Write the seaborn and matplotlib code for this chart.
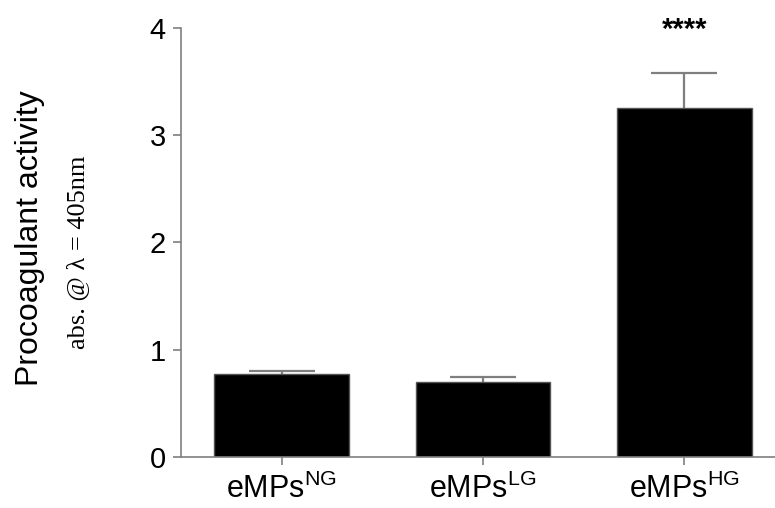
import matplotlib
matplotlib.use("Agg")
import matplotlib.pyplot as plt
import seaborn as sns
import pandas as pd

# Data
groups = ["NG", "LG", "HG"]
tick_labels = [r"eMPs$^{\mathregular{NG}}$", r"eMPs$^{\mathregular{LG}}$", r"eMPs$^{\mathregular{HG}}$"]
means = [0.77, 0.70, 3.25]
err_upper = [0.03, 0.05, 0.33]
significance = ["", "", "****"]
yticks = [0, 1, 2, 3, 4]

sns.set_theme(style="white")
plt.rcParams["font.family"] = ["Liberation Sans", "DejaVu Sans"]
plt.rcParams["mathtext.fontset"] = "custom"
plt.rcParams["mathtext.rm"] = "Liberation Sans"

df = pd.DataFrame({"group": tick_labels, "value": means})

fig = plt.figure(figsize=(7.75, 5.08), dpi=100)
W, H = 775, 508
ax = fig.add_axes([181 / W, 1 - 457 / H, (W - 181) / W, (457 - 28) / H])

grey = "#7f7f7f"
sns.barplot(data=df, x="group", y="value", color="black", width=0.67,
            edgecolor="#555555", linewidth=1.0, ax=ax, errorbar=None,
            saturation=1, zorder=2)

xs = list(range(len(means)))
eb = ax.errorbar(xs, means, yerr=[[0] * len(means), err_upper], fmt="none",
                 ecolor=grey, elinewidth=1.6, capsize=24, capthick=1.6, zorder=1)
# only the upper whisker is shown: hide the lower caps
caplines = eb.lines[1]
if len(caplines) == 2:
    caplines[0].set_visible(False)

for x, m, e, s in zip(xs, means, err_upper, significance):
    if s:
        ax.text(x, 3.98, s, ha="center", va="center", fontsize=21,
                fontweight="bold", color="black", clip_on=False)

ax.set_xlim(-0.5, 2.45)
ax.set_ylim(0, 4)
ax.set_yticks(yticks)
ax.set_yticklabels([str(t) for t in yticks])
ax.set_xlabel("")
ax.set_ylabel("")

for side in ["top", "right"]:
    ax.spines[side].set_visible(False)
for side in ["left", "bottom"]:
    ax.spines[side].set_color(grey)
    ax.spines[side].set_linewidth(1.2)

ax.tick_params(axis="y", which="both", left=True, length=6, width=1.2,
               color=grey, labelsize=21, pad=5, labelcolor="black")
ax.tick_params(axis="x", which="both", bottom=True, length=6, width=1.2,
               color=grey, labelsize=22, pad=6, labelcolor="black")

fig.text(30 / W, 1 - 238 / H, "Procoagulant activity", rotation=90,
         ha="center", va="center", fontsize=23, color="black")
fig.text(78 / W, 1 - 252 / H, "abs. @ \u03bb = 405nm", rotation=90,
         ha="center", va="center", fontsize=19, color="black",
         family=["Liberation Serif", "DejaVu Serif"])

fig.savefig("out.png", dpi=100)
